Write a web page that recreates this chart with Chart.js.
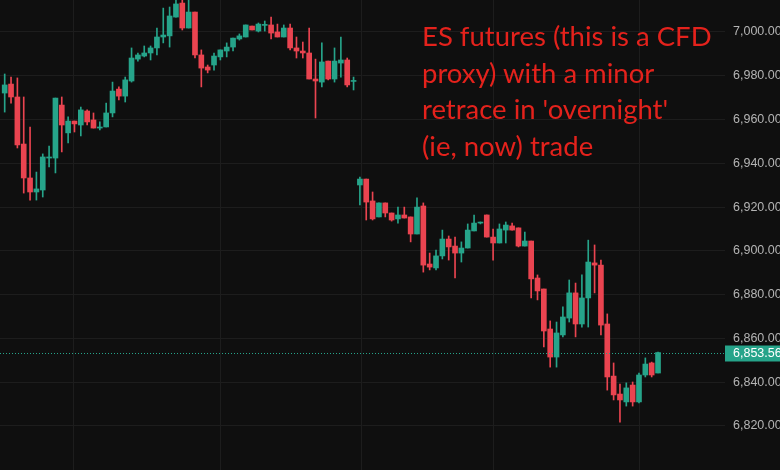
<!DOCTYPE html>
<html>
<head>
<meta charset="utf-8">
<script src="https://cdn.jsdelivr.net/npm/chart.js@4.4.1/dist/chart.umd.min.js"></script>
<style>
    html, body { margin: 0; padding: 0; background: #0f0f0f; overflow: hidden; }
    #wrap { position: relative; width: 780px; height: 470px; }
    #note {
        position: absolute; left: 422px; top: 18px;
        font-family: Lato, "Open Sans", sans-serif; font-size: 27.5px;
        line-height: 36.7px; color: #e4221c; white-space: pre;
    }
</style>
</head>
<body>
<div id="wrap">
    <canvas id="chart"></canvas>
    <div id="note">ES futures (this is a CFD
proxy) with a minor
retrace in 'overnight'
(ie, now) trade</div>
</div>
<script>
// velas (open / high / low / close), una por barra
const opens = [
    6972.1, 6976.2, 6970.3, 6948.8, 6933.3, 6926.9, 6927.8, 6942.4, 6942.4, 6966.6,
    6953.9, 6959.3, 6957.5, 6963.9, 6959.8, 6956.1, 6956.6, 6963.0, 6973.9, 6970.7,
    6977.6, 6987.6, 6989.0, 6990.4, 6992.7, 6997.7, 6998.2, 7006.8, 7013.2, 7001.8,
    7009.1, 6989.5, 6984.0, 6984.9, 6988.6, 6991.3, 6993.1, 6996.8, 6997.7, 7002.7,
    7000.4, 7003.0, 7003.2, 7000.0, 6997.7, 7001.8, 6992.7, 6991.3, 6990.4, 6978.5,
    6977.1, 6986.7, 6978.5, 6985.8, 6987.2, 6977.4, 6930.1, 6932.8, 6922.8, 6915.5,
    6921.9, 6917.3, 6914.6, 6916.4, 6915.5, 6907.7, 6920.5, 6894.0, 6892.2, 6897.7,
    6905.4, 6902.2, 6899.0, 6901.3, 6909.1, 6912.7, 6916.4, 6906.3, 6903.6, 6909.5,
    6911.4, 6910.5, 6902.2, 6904.5, 6887.6, 6882.6, 6864.3, 6851.5, 6861.6, 6869.3,
    6880.8, 6866.6, 6878.5, 6894.5, 6893.5, 6866.6, 6842.8, 6834.6, 6831.0, 6838.7,
    6831.0, 6843.3, 6848.8, 6844.2
];
const highs = [
    6980.8, 6979.4, 6979.0, 6970.3, 6956.6, 6936.0, 6944.3, 6947.9, 6969.8, 6970.3,
    6961.2, 6959.3, 6965.7, 6964.4, 6963.0, 6958.9, 6967.5, 6977.1, 6974.9, 6979.4,
    6992.7, 6990.4, 6993.6, 6993.6, 7001.8, 7010.9, 7011.4, 7015.5, 7015.5, 7015.5,
    7009.1, 6991.8, 6984.9, 6990.4, 6991.8, 6995.0, 6997.2, 6999.1, 7003.2, 7002.7,
    7004.1, 7005.0, 7006.8, 7003.6, 7003.2, 7003.6, 6997.7, 6995.4, 7001.8, 6987.6,
    6995.0, 6986.7, 6992.7, 6997.7, 6988.1, 6979.4, 6933.7, 6932.8, 6926.9, 6921.9,
    6921.9, 6917.3, 6920.0, 6920.0, 6915.5, 6924.2, 6921.9, 6899.0, 6900.4, 6909.5,
    6906.8, 6906.3, 6904.1, 6912.3, 6916.4, 6913.2, 6916.4, 6910.0, 6912.3, 6913.2,
    6912.7, 6910.5, 6908.6, 6904.5, 6889.0, 6882.6, 6868.0, 6867.5, 6874.4, 6886.7,
    6885.3, 6889.0, 6904.9, 6902.7, 6895.8, 6871.2, 6848.8, 6839.2, 6839.7, 6840.1,
    6844.2, 6851.1, 6849.2, 6853.8
];
const lows = [
    6963.4, 6967.5, 6947.0, 6926.4, 6923.2, 6923.2, 6924.6, 6938.3, 6935.6, 6945.2,
    6949.3, 6954.3, 6952.5, 6957.5, 6956.1, 6955.2, 6956.6, 6961.2, 6968.9, 6968.0,
    6977.1, 6986.7, 6988.6, 6987.2, 6989.5, 6995.0, 6993.1, 7006.8, 7000.9, 7001.8,
    6988.1, 6974.9, 6981.3, 6982.6, 6987.2, 6988.6, 6991.3, 6996.3, 6997.7, 7000.9,
    7000.0, 7000.4, 6996.8, 6997.7, 6997.7, 6991.8, 6988.1, 6988.1, 6978.5, 6960.7,
    6974.9, 6978.1, 6977.1, 6979.4, 6974.9, 6973.5, 6921.0, 6914.1, 6914.1, 6915.5,
    6915.5, 6913.6, 6912.7, 6915.0, 6904.1, 6907.7, 6890.3, 6891.3, 6891.3, 6896.3,
    6895.8, 6887.6, 6894.9, 6901.3, 6909.1, 6912.3, 6906.3, 6895.8, 6903.6, 6903.6,
    6909.5, 6901.8, 6902.2, 6878.5, 6877.6, 6856.1, 6846.9, 6846.9, 6860.7, 6867.5,
    6860.7, 6865.2, 6865.2, 6880.8, 6861.6, 6836.4, 6831.9, 6821.8, 6829.1, 6829.1,
    6830.5, 6842.4, 6842.4, 6844.2
];
const closes = [
    6975.8, 6970.3, 6948.4, 6933.3, 6926.9, 6928.3, 6942.9, 6942.9, 6969.8, 6957.5,
    6959.3, 6958.0, 6964.4, 6958.9, 6956.1, 6956.6, 6963.0, 6973.0, 6970.7, 6978.1,
    6988.1, 6989.5, 6990.4, 6992.7, 6997.7, 6998.6, 7007.3, 7012.8, 7001.8, 7009.1,
    6989.5, 6983.5, 6982.6, 6989.0, 6991.8, 6993.1, 6997.2, 6998.2, 7003.2, 7000.9,
    7003.6, 7003.2, 6999.5, 6997.7, 7001.8, 6992.7, 6991.3, 6990.4, 6978.5, 6977.6,
    6986.3, 6978.5, 6986.7, 6987.2, 6975.8, 6977.8, 6932.8, 6922.3, 6914.6, 6921.9,
    6917.3, 6914.1, 6916.4, 6915.0, 6907.7, 6920.0, 6893.5, 6892.6, 6897.7, 6905.4,
    6901.8, 6899.0, 6901.3, 6909.5, 6912.7, 6913.0, 6906.3, 6903.6, 6910.0, 6911.8,
    6909.5, 6902.2, 6904.5, 6887.2, 6881.7, 6863.4, 6851.5, 6862.5, 6869.8, 6880.8,
    6866.6, 6878.5, 6894.9, 6893.5, 6866.1, 6842.4, 6834.2, 6831.9, 6837.4, 6831.0,
    6843.3, 6848.3, 6843.3, 6853.56
];
const yTicks = [6820, 6840, 6860, 6880, 6900, 6920, 6940, 6960, 6980, 7000];
// lineas verticales de tiempo (en indice de vela)
const timeGrid = [11.9, 35.1, 57.3, 78.0, 101.1];
const lastPrice = 6853.56;

const UP = "#26a48a";
const DOWN = "#ea4450";

const idx = opens.map((_, i) => i + 1);
const isUp = (i) => closes[i] >= opens[i];
const candleColor = (c) => (isUp(c.dataIndex) ? UP : DOWN);

const fmt = (v) => v.toLocaleString("en-US", { minimumFractionDigits: 2, maximumFractionDigits: 2 });

// linea punteada y etiqueta del ultimo precio
const lastPricePlugin = {
    id: "lastPrice",
    afterDatasetsDraw(chart) {
        const { ctx, chartArea, scales } = chart;
        const y = Math.round(scales.y.getPixelForValue(lastPrice)) + 0.5;
        ctx.save();
        ctx.strokeStyle = UP;
        ctx.lineWidth = 1;
        ctx.setLineDash([1, 2]);
        ctx.beginPath();
        ctx.moveTo(chartArea.left, y);
        ctx.lineTo(chartArea.right, y);
        ctx.stroke();
        ctx.setLineDash([]);
        ctx.fillStyle = UP;
        ctx.fillRect(chartArea.right, y - 8, chart.width - chartArea.right, 16);
        ctx.fillStyle = "#ffffff";
        ctx.font = "12.5px 'Liberation Sans', Arial, sans-serif";
        ctx.textBaseline = "middle";
        ctx.textAlign = "left";
        ctx.fillText(fmt(lastPrice), chartArea.right + 8, y + 0.5);
        ctx.restore();
    },
};

const ctx = document.getElementById("chart").getContext("2d");

new Chart(ctx, {
    type: "bar",
    data: {
        datasets: [
            {
                label: "wick",
                data: idx.map((x, i) => ({ x: x, y: [lows[i], highs[i]] })),
                backgroundColor: candleColor,
                barThickness: 1,
                minBarLength: 1,
                grouped: false,
                order: 2,
            },
            {
                label: "body",
                data: idx.map((x, i) => ({
                    x: x,
                    y: [Math.min(opens[i], closes[i]), Math.max(opens[i], closes[i])],
                })),
                backgroundColor: candleColor,
                barThickness: 5,
                minBarLength: 1,
                grouped: false,
                order: 1,
            },
        ],
    },
    options: {
        responsive: true,
        maintainAspectRatio: false,
        animation: false,
        layout: { padding: 0 },
        plugins: {
            legend: { display: false },
            tooltip: { enabled: false },
        },
        scales: {
            x: {
                type: "linear",
                min: 0.26,
                max: 114.56,
                offset: false,
                ticks: { display: false },
                grid: { color: "#1d1d1d", drawTicks: false, offset: false },
                border: { display: false },
                afterBuildTicks: (s) => { s.ticks = timeGrid.map((v) => ({ value: v })); },
                afterFit: (s) => { s.height = 0; s.paddingLeft = 0; s.paddingRight = 0; },
            },
            y: {
                position: "right",
                min: 6799.9,
                max: 7014.6,
                grid: { color: "#1d1d1d", drawTicks: false },
                border: { display: false },
                ticks: {
                    color: "#b4b4b4",
                    padding: 8,
                    font: { size: 12.5, family: "'Liberation Sans', Arial, sans-serif" },
                    callback: (v) => fmt(v),
                },
                afterBuildTicks: (s) => { s.ticks = yTicks.map((v) => ({ value: v })); },
                afterFit: (s) => { s.width = 55; s.paddingTop = 0; s.paddingBottom = 0; },
            },
        },
    },
    plugins: [lastPricePlugin],
});
</script>
</body>
</html>
